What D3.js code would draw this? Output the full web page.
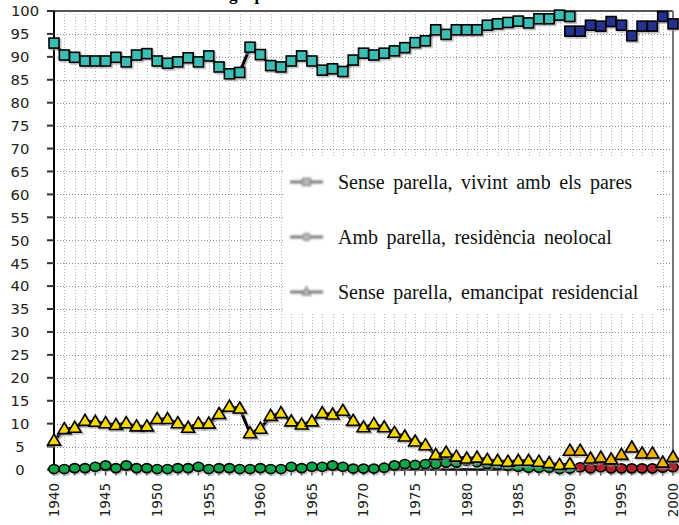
<!DOCTYPE html>
<html><head><meta charset="utf-8">
<script src="https://cdn.jsdelivr.net/npm/d3@7"></script>
<style>
html,body{margin:0;padding:0;background:#fff;}
svg{display:block;}
</style></head>
<body>
<svg id="chart" width="679" height="525"></svg>
<script>
// ---------- DATA ----------
const titleText = "grup d'edat";
const seriesNames = ["Sense parella, vivint amb els pares", "Amb parella, residència neolocal", "Sense parella, emancipat residencial"];
const yTicks = [0,5,10,15,20,25,30,35,40,45,50,55,60,65,70,75,80,85,90,95,100];
const xTickLabels = [1940,1945,1950,1955,1960,1965,1970,1975,1980,1985,1990,1995,2000];
const firstStart = 1940;   // first period series start
const secondStart = 1990;  // second period series start (squares, triangles)
const redStart = 1991;     // second period circles start

const vivintPares1 = [93.0,90.4,89.9,89.1,89.1,89.1,89.9,88.9,90.4,90.7,
  89.1,88.6,88.9,89.8,88.9,90.2,87.8,86.3,86.6,92.1,
  90.5,88.1,87.8,89.1,90.2,89.1,87.1,87.4,86.8,89.3,
  90.8,90.4,90.8,91.3,92.0,93.1,93.5,95.9,94.9,95.9,
  95.9,95.9,96.9,97.2,97.5,97.8,97.4,98.3,98.3,99.1,
  98.8];
const vivintPares2 = [95.6,95.6,96.9,96.7,97.7,96.9,94.6,96.7,96.7,98.8,97.2];

const ambParella1 = [0.1,0.1,0.3,0.3,0.6,0.9,0.3,0.9,0.3,0.3,
  0.1,0.1,0.3,0.3,0.6,0.1,0.3,0.3,0.1,0.1,
  0.3,0.1,0.1,0.6,0.3,0.6,0.6,0.9,0.6,0.2,
  0.2,0.2,0.4,0.9,1.2,1.0,1.2,1.2,1.5,1.5,
  1.9,1.6,1.2,1.0,0.8,0.6,0.4,0.4,0.4,0.1,
  0.2];
const ambParella2 = [0.5,0.25,0.5,0.25,0.25,0.25,0.25,0.25,0.4,0.5];

const emancipat1 = [6.3,8.8,9.1,10.6,10.4,10.1,9.7,10.1,9.4,9.4,
  11.0,11.0,10.1,9.1,10.0,10.0,12.1,13.7,13.3,7.9,
  8.9,11.7,12.3,10.5,9.8,10.5,12.3,12.0,12.8,10.6,
  9.2,9.9,9.2,8.0,7.2,6.1,5.3,3.2,3.7,2.8,
  2.4,2.6,2.1,1.9,1.7,1.9,1.9,1.7,1.4,1.0,
  1.2];
const emancipat2 = [4.1,4.1,2.4,2.6,2.2,3.2,4.8,3.5,3.5,1.5,2.7];

// ---------- CHART ----------
const svg = d3.select("#chart");
const pLeft = 54, pRight = 673, pTop = 11, pBottom = 469.5;
const x = d3.scaleLinear().domain([1940, 2000]).range([pLeft, pRight]);
const y = d3.scaleLinear().domain([0, 100]).range([pBottom, pTop]);

const toPts = (arr, start) => arr.map((v, i) => ({year: start + i, v}));

// vertical grid (each year)
const allYears = d3.range(1940, 2001);
svg.append("g").selectAll("line").data(allYears.filter(d => d > 1940 && d < 2000)).join("line")
  .attr("x1", d => Math.round(x(d)) + 0.5).attr("x2", d => Math.round(x(d)) + 0.5)
  .attr("y1", pTop).attr("y2", pBottom)
  .attr("stroke", "#b5b5b5").attr("stroke-width", 1).attr("stroke-dasharray", "1,2");
// horizontal grid
svg.append("g").selectAll("line").data(yTicks.filter(d => d > 0 && d < 100)).join("line")
  .attr("x1", pLeft).attr("x2", pRight)
  .attr("y1", d => Math.round(y(d)) + 0.5).attr("y2", d => Math.round(y(d)) + 0.5)
  .attr("stroke", "#8a8a8a").attr("stroke-width", 1).attr("stroke-dasharray", "1,2");

// frame top/right
svg.append("line").attr("x1", pLeft).attr("x2", pRight).attr("y1", pTop).attr("y2", pTop)
  .attr("stroke", "#555").attr("stroke-width", 2);
svg.append("line").attr("x1", pRight).attr("x2", pRight).attr("y1", pTop).attr("y2", pBottom)
  .attr("stroke", "#777").attr("stroke-width", 2);

// legend box (drawn under the data)
const lg = svg.append("g");
lg.append("rect").attr("x", 283).attr("y", 158).attr("width", 372).attr("height", 155).attr("fill", "#fff");
const blur = svg.append("defs").append("filter").attr("id", "blur")
  .attr("x", "-50%").attr("y", "-200%").attr("width", "200%").attr("height", "500%");
blur.append("feGaussianBlur").attr("stdDeviation", 0.8);
seriesNames.forEach((name, i) => {
  const cy = 182 + i * 55;
  const g = lg.append("g").attr("transform", `translate(306.5,${cy})`).attr("filter", "url(#blur)");
  g.append("rect").attr("x", -16.5).attr("y", -1.5).attr("width", 33).attr("height", 3).attr("fill", "#7a7a7a");
  if (i === 0) g.append("rect").attr("x", -4).attr("y", -3.5).attr("width", 8).attr("height", 7).attr("fill", "#bbb").attr("stroke", "#888").attr("stroke-width", 1.5);
  if (i === 1) g.append("ellipse").attr("rx", 4).attr("ry", 3.5).attr("fill", "#bbb").attr("stroke", "#888").attr("stroke-width", 1.5);
  if (i === 2) g.append("path").attr("d", "M0,-5L4,3L-4,3Z").attr("fill", "#bbb").attr("stroke", "#888").attr("stroke-width", 1.5);
  lg.append("text").attr("x", 338).attr("y", cy + 6.5)
    .attr("font-family", "'Liberation Serif', 'DejaVu Serif', serif").attr("font-size", 20)
    .attr("word-spacing", 3.5).attr("fill", "#111").text(name);
});

// axes
svg.append("line").attr("x1", pLeft).attr("x2", pLeft).attr("y1", pTop).attr("y2", pBottom + 1)
  .attr("stroke", "#000").attr("stroke-width", 2);
svg.append("line").attr("x1", pLeft).attr("x2", pRight).attr("y1", pBottom).attr("y2", pBottom)
  .attr("stroke", "#000").attr("stroke-width", 2.5);
svg.append("g").selectAll("line").data(yTicks).join("line")
  .attr("x1", pLeft - 7).attr("x2", pLeft).attr("y1", d => y(d)).attr("y2", d => y(d))
  .attr("stroke", "#333").attr("stroke-width", 2);
svg.append("g").selectAll("line").data(allYears).join("line")
  .attr("x1", d => x(d)).attr("x2", d => x(d)).attr("y1", pBottom).attr("y2", pBottom + 6)
  .attr("stroke", "#444").attr("stroke-width", 1.5);

// y labels
svg.append("g").selectAll("text").data(yTicks).join("text")
  .attr("x", d => d === 100 ? 25 : 20).attr("y", d => y(d)).attr("dy", "0.36em")
  .attr("text-anchor", "middle").attr("font-family", "'DejaVu Sans', sans-serif")
  .attr("font-size", 14.8).attr("fill", "#222").text(d => d);
// x labels
svg.append("g").selectAll("text").data(xTickLabels).join("text")
  .attr("transform", d => `translate(${x(d)},483) rotate(-90)`).attr("dy", "0.36em")
  .attr("text-anchor", "end").attr("font-family", "'DejaVu Sans', sans-serif")
  .attr("font-size", 13.5).attr("fill", "#222").text(d => d);

// title (mostly above the visible area)
svg.append("text").attr("x", 229).attr("y", -0.5)
  .attr("font-family", "'Liberation Serif', serif").attr("font-weight", "bold")
  .attr("font-size", 17).attr("fill", "#000").text(titleText);

// series drawing helpers
const line = d3.line().x(d => x(d.year)).y(d => y(d.v));
function drawLine(pts) {
  svg.append("path").attr("d", line(pts)).attr("fill", "none").attr("stroke", "#999")
    .attr("stroke-width", 3).attr("opacity", 0.6).attr("transform", "translate(1.5,1.5)");
  svg.append("path").attr("d", line(pts)).attr("fill", "none").attr("stroke", "#000")
    .attr("stroke-width", 3).attr("stroke-linejoin", "round");
}
const markerShapes = {
  square: g => g.append("rect").attr("x", -5).attr("y", -5).attr("width", 10).attr("height", 10),
  circle: g => g.append("ellipse").attr("rx", 5.2).attr("ry", 4.5),
  triangle: g => g.append("path").attr("d", "M0,-6.5L6.5,4.5L-6.5,4.5Z")
};
function drawMarkers(pts, shape, fill) {
  const sh = svg.append("g").selectAll("g").data(pts).join("g")
    .attr("transform", d => `translate(${x(d.year) + 1.5},${y(d.v) + 1.5})`);
  markerShapes[shape](sh).attr("fill", "#999").attr("opacity", 0.55).attr("stroke", "#999").attr("stroke-width", 2);
  const g = svg.append("g").selectAll("g").data(pts).join("g")
    .attr("transform", d => `translate(${x(d.year)},${y(d.v)})`);
  markerShapes[shape](g).attr("fill", fill).attr("stroke", "#000").attr("stroke-width", 1.6)
    .attr("stroke-linejoin", "miter");
}

const s1 = toPts(vivintPares1, firstStart), s1b = toPts(vivintPares2, secondStart);
const s2 = toPts(ambParella1, firstStart), s2b = toPts(ambParella2, redStart);
const s3 = toPts(emancipat1, firstStart), s3b = toPts(emancipat2, secondStart);

drawLine(s1); drawMarkers(s1, "square", "#3cbdb4");
drawMarkers(s1b, "square", "#25318f");
drawLine(s2); drawMarkers(s2, "circle", "#12a64a");
drawMarkers(s2b, "circle", "#b0232b");
drawLine(s3); drawMarkers(s3, "triangle", "#f7d800");
drawMarkers(s3b, "triangle", "#f2b200");
</script>
</body></html>
